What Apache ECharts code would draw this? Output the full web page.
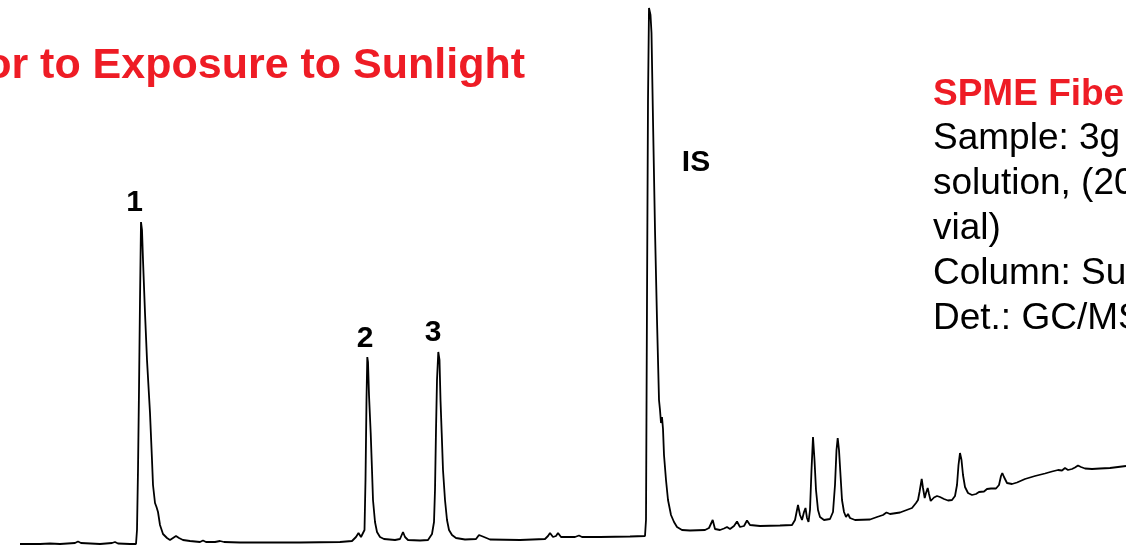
<!DOCTYPE html>
<html>
<head>
<meta charset="utf-8">
<script src="https://cdn.jsdelivr.net/npm/echarts@6/dist/echarts.min.js"></script>
<style>
  html, body { margin: 0; padding: 0; background: #ffffff; }
  #chart { width: 1126px; height: 545px; }
</style>
</head>
<body>
<div id="chart"></div>
<script>
// Retention position (arbitrary time units) of each sampled point of the trace
const retention = [
  20, 40, 50, 60, 75, 78, 81, 100, 112, 115, 118, 130, 136, 137, 138, 139, 140, 141, 142, 143,
  145, 147, 150, 152, 153, 155, 156.5, 158, 160, 163, 167, 170, 173, 176, 179, 183, 190, 200, 203, 206,
  215, 220, 224, 240, 300, 340, 352, 356, 358.5, 361, 363, 364.5, 365.5, 366.5, 367.3, 368, 369, 370.7, 372, 373,
  375, 377, 380, 384, 395, 400, 403, 405, 408, 420, 428, 432, 434, 435, 436, 437, 438.3, 439.5, 440.5, 441.7,
  443, 445, 447, 449, 452, 456, 465, 476, 479, 481, 484, 490, 520, 545, 548, 550, 553, 556, 558, 561,
  575, 579, 582, 600, 630, 645, 646, 647, 648, 649, 650.5, 651.5, 653, 655, 657, 659, 660, 661, 662, 663,
  664, 666, 668, 671, 674, 677, 682, 690, 705, 709, 712.7, 715, 720, 724, 727, 730, 734, 737, 740, 744,
  747, 750, 760, 780, 792, 795, 798, 800, 802, 804, 805.5, 807, 808.5, 810, 811.5, 813, 814.5, 816, 818, 820,
  824, 830, 833, 835, 836.5, 837.7, 839, 840.5, 842, 844, 846, 848, 850, 855, 870, 877, 883, 886.5, 890, 900,
  912, 916, 918, 919.5, 921.7, 923, 924.7, 926, 927.7, 929, 930.7, 934, 937, 940, 944, 948, 952, 955, 957, 958.5,
  960, 961.5, 963, 965, 968, 972, 976, 979, 981, 984, 987, 991, 996, 999, 1001, 1002.3, 1004, 1007, 1012, 1017,
  1025, 1035, 1045, 1052, 1058, 1062, 1065, 1068, 1072, 1075, 1078, 1081, 1085, 1092, 1100, 1110, 1118, 1126
];

// Detector response (abundance, arbitrary units) at each retention position
const abundance = [
  1, 1, 1.5, 1, 2, 3.5, 2, 1, 2, 3, 1.5, 1, 1, 15, 75, 155, 245, 323, 315, 285,
  232, 185, 132, 85, 60, 42, 38, 33, 20, 11, 7, 5, 7, 9, 7, 5, 4, 3, 4.5, 3,
  3, 4, 3, 2.5, 2.5, 3, 4, 8, 12, 8, 6, 15, 65, 145, 188, 183, 150, 112, 75, 45,
  23, 13, 8, 6, 5, 6, 13, 8, 5, 4.5, 5, 11, 23, 55, 115, 165, 193, 185, 145, 112,
  75, 45, 25, 15, 10, 7, 5.5, 6, 10, 12, 8, 5.5, 5, 6, 9, 12, 8, 9, 12, 8,
  8, 9.5, 8, 8, 8.5, 9, 25, 245, 445, 537, 530, 512, 425, 315, 225, 145, 135, 122, 128, 116,
  90, 65, 45, 30, 23, 18, 15, 14.5, 15, 17, 25, 16, 15, 16.5, 18, 16, 19, 23.5, 18, 19,
  24.5, 20, 19, 19.5, 20, 25, 40, 30, 25, 33, 37, 27, 23, 35, 75, 108, 85, 55, 35, 28,
  25, 26, 33, 60, 95, 107, 95, 70, 45, 33, 28, 31, 27, 25, 25.5, 28, 30, 32.5, 31, 32.5,
  37, 42, 45, 53, 66, 57, 47, 52, 57, 51, 44, 47.5, 49, 48, 46, 44.5, 45, 49, 60, 80,
  92, 85, 70, 58, 52, 50, 51, 53, 55, 53.5, 56, 56.5, 56.5, 60, 69, 72, 68, 62, 61, 62.5,
  66, 69, 71.5, 73.5, 75, 74.5, 77, 75, 76, 77.5, 79.5, 78, 76.5, 76, 76.5, 77, 78, 79
];

// Peak identifiers and where each label sits (retention, abundance)
const peakNames = ['1', '2', '3', 'IS'];
const peakLabelX = [134.5, 365, 433, 696];
const peakLabelY = [342, 206, 212.5, 382];

// Heading and run conditions
const titleText = 'or to Exposure to Sunlight';
const conditionsHeading = 'SPME Fibe';
const conditionsLines = ['Sample: 3g', 'solution, (20', 'vial)', 'Column: Su', 'Det.: GC/MS'];

const FONT = '"Liberation Sans", Arial, Helvetica, sans-serif';
const RED = '#ee1c25';

const trace = retention.map((t, i) => [t, abundance[i]]);

const chart = echarts.init(document.getElementById('chart'), null, { renderer: 'canvas' });

chart.setOption({
  backgroundColor: '#ffffff',
  animation: false,
  grid: { left: 0, right: 0, top: 0, bottom: 0 },
  xAxis: { type: 'value', min: 0, max: 1126, show: false },
  yAxis: { type: 'value', min: 0, max: 545, show: false },
  series: [
    {
      type: 'line',
      data: trace,
      showSymbol: false,
      smooth: false,
      clip: false,
      lineStyle: { color: '#000000', width: 1.8 },
      z: 2
    }
  ]
});

// Text overlay: heading, run conditions and peak identifiers
const graphics = [
  {
    type: 'text', x: 525, y: 66,
    style: {
      text: titleText, fill: RED, font: 'bold 43px ' + FONT,
      textAlign: 'right', textVerticalAlign: 'middle'
    }
  },
  {
    type: 'text', x: 933, y: 95,
    style: {
      text: conditionsHeading, fill: RED, font: 'bold 37px ' + FONT,
      textAlign: 'left', textVerticalAlign: 'middle'
    }
  }
];
conditionsLines.forEach((line, i) => {
  graphics.push({
    type: 'text', x: 933, y: 139 + i * 45,
    style: {
      text: line, fill: '#000000', font: '37px ' + FONT,
      textAlign: 'left', textVerticalAlign: 'middle'
    }
  });
});
peakNames.forEach((name, i) => {
  const [px, py] = chart.convertToPixel({ gridIndex: 0 }, [peakLabelX[i], peakLabelY[i]]);
  graphics.push({
    type: 'text', x: px, y: py, z: 10,
    style: {
      text: name, fill: '#000000', font: 'bold 30px ' + FONT,
      textAlign: 'center', textVerticalAlign: 'middle'
    }
  });
});

chart.setOption({ graphic: graphics });
</script>
</body>
</html>
